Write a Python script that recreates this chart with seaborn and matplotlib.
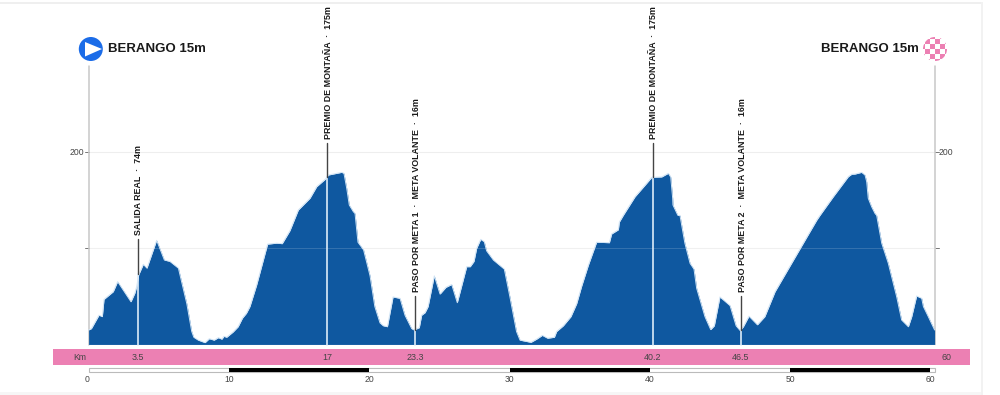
import numpy as np
import pandas as pd
import matplotlib
matplotlib.use("Agg")
import matplotlib.pyplot as plt
from matplotlib.patches import Circle, Rectangle, Polygon
import seaborn as sns

km = [0, 0.2, 0.74, 0.98, 1.1, 1.76, 2.07, 3.02, 3.3, 3.43, 3.57, 3.9, 4.16, 4.85, 5.4, 5.8, 6.4, 7.0, 7.35, 7.5,
      7.82, 8.3, 8.6, 8.95, 9.25, 9.5, 9.65, 9.84, 10.3, 10.66, 10.97, 11.25, 11.5, 11.98, 12.76, 13.4, 13.8, 14.35,
      14.95, 15.78, 16.26, 16.9, 17.09, 18.04, 18.2, 18.4, 18.58, 18.87, 18.99, 19.2, 19.6, 20.06, 20.4, 20.77, 21.0,
      21.3, 21.7, 22.2, 22.55, 23.03, 23.2, 23.57, 23.74, 23.98, 24.2, 24.64, 25.05, 25.47, 25.88, 26.28, 26.95,
      27.2, 27.47, 27.66, 27.95, 28.2, 28.37, 28.85, 29.63, 30.03, 30.5, 30.75, 31.53, 31.93, 32.34, 32.72, 33.2,
      33.36, 33.84, 34.38, 34.79, 35.14, 35.62, 36.21, 37.12, 37.28, 37.76, 37.83, 38.11, 38.95, 39.78, 40.14,
      40.85, 41.32, 41.49, 41.63, 41.65, 42.0, 42.15, 42.5, 42.87, 43.15, 43.34, 43.93, 44.34, 44.6, 45.0, 45.72,
      46.15, 46.44, 46.67, 47.07, 47.67, 48.2, 48.93, 51.42, 51.9, 52.13, 53.08, 54.15, 54.39, 54.62, 55.1, 55.34,
      55.46, 55.57, 55.81, 56.05, 56.17, 56.53, 57.0, 57.6, 57.95, 58.43, 58.67, 59.02, 59.38, 59.5, 59.85, 60.3]
elevation = [14.6, 16, 30, 28.5, 46.5, 54.5, 65, 44, 53, 60, 72, 83, 79, 108, 87.5, 86, 79, 42, 13, 7,
             4, 1.4, 5.5, 4, 6.6, 5, 8, 7, 12.5, 18, 27, 32, 39, 61.5, 104, 105, 104.5, 118,
             139.6, 151.8, 163.9, 172, 176, 178.8, 177.8, 162, 144.8, 137.8, 136, 106, 98, 71, 39, 22, 19,
             18, 49, 47.5, 30, 16, 14.6, 17, 30, 32.6, 39, 71, 52, 59, 62, 43, 80.5,
             80.5, 86, 99.6, 109, 106.6, 97, 87.5, 78, 49, 13, 4, 1.7, 5, 9, 6, 7,
             13, 19, 28.5, 42, 60, 82, 106, 105.5, 114.6, 119, 127, 134, 153.4, 167.4, 173.6,
             174, 177.8, 174, 151.8, 144.8, 134, 134, 105, 84, 78, 58, 28.5, 15, 19, 49, 40,
             19, 14, 18, 29, 20, 28.5, 54.5, 117, 129, 134, 153.4, 174.3, 176.8, 177, 178.8, 176,
             169, 151.8, 143, 136, 134, 105, 84, 49, 25, 18, 28.5, 50, 47.6, 39, 28.5, 14.6]

mark_km = [3.5, 17, 23.3, 40.2, 46.5]
mark_elev = [73, 174, 15, 174, 15]
mark_stem_top = [109, 209, 50, 209, 50]
mark_labels = ["SALIDA REAL  ·  74m", "PREMIO DE MONTAÑA  ·  175m", "PASO POR META 1  ·  META VOLANTE  ·  16m",
               "PREMIO DE MONTAÑA  ·  175m", "PASO POR META 2  ·  META VOLANTE  ·  16m"]
band_labels = ["3.5", "17", "23.3", "40.2", "46.5", "60"]
band_km = [3.5, 17, 23.3, 40.2, 46.5, 60]
scale_ticks = [0, 10, 20, 30, 40, 50, 60]
place_start = "BERANGO 15m"
place_end = "BERANGO 15m"

sns.set_theme(style="white")
plt.rcParams['font.family'] = ['Liberation Sans', 'DejaVu Sans']

fig = plt.figure(figsize=(10, 3.95), dpi=100, facecolor="white")
px = fig.add_axes([0, 0, 1, 1], zorder=0)
px.set_xlim(0, 1000); px.set_ylim(395, 0); px.axis("off")
ax = fig.add_axes([0, 0, 1, 1], zorder=1)
ax.patch.set_alpha(0)
x0, sx, y0, sy = 88.6, 14.03, 344.0, 0.96
ax.set_xlim((0 - x0) / sx, (1000 - x0) / sx)
ax.set_ylim((y0 - 395) / sy, (y0 - 0) / sy)
ax.axis("off")
top = fig.add_axes([0, 0, 1, 1], zorder=2)
top.patch.set_alpha(0)
top.set_xlim(0, 1000); top.set_ylim(395, 0); top.axis("off")

BLUE = "#0F58A0"
PINK = "#EC80B3"
base = -1.3
df = pd.DataFrame({"km": km, "elevation": elevation})

# page frame
px.add_patch(Rectangle((0, 2), 981, 1.6, color="#EFEFEF", lw=0))
px.add_patch(Rectangle((981, 2), 1.6, 393, color="#F2F2F2", lw=0))
px.add_patch(Rectangle((0, 392), 981, 3, color="#F6F6F6", lw=0))

# grid & axes
for v in (100, 200):
    ax.plot([0, 60.33], [v, v], color="#EEEEEE", lw=0.8, zorder=1)
    ax.plot([-0.25, 0], [v, v], color="#777777", lw=0.7, zorder=1)
    ax.plot([60.33, 60.58], [v, v], color="#777777", lw=0.7, zorder=1)
for xv in (0, 60.33):
    ax.plot([xv, xv], [base, 290], color="#C8C8C8", lw=1.1, zorder=1)

ax.fill_between(df["km"], base, df["elevation"], color=BLUE, lw=0, zorder=2)
sns.lineplot(data=df, x="km", y="elevation", ax=ax, color="#CFE3F5", lw=0.7, zorder=3, legend=False, estimator=None)
ax.axis("off")
ax.set_xlim((0 - x0) / sx, (1000 - x0) / sx)
ax.set_ylim((y0 - 395) / sy, (y0 - 0) / sy)
ax.plot([0, 60.33], [100, 100], color="white", lw=0.6, alpha=0.18, zorder=4)
ax.plot([0, 60.33], [base, base], color="white", lw=0.8, zorder=4)

# markers
for k, e, s, lab in zip(mark_km, mark_elev, mark_stem_top, mark_labels):
    ax.plot([k, k], [base, e], color="#DCEBF8", lw=1.2, zorder=5)
    ax.plot([k, k], [e, s], color="#444444", lw=1.0, zorder=5)
    ax.annotate(lab, (k, s), xytext=(0.9, 3), textcoords="offset points", rotation=90, ha="center", va="bottom",
                fontsize=6.4, fontweight="bold", color="#1A1A1A", zorder=6)

# km band
px.add_patch(Rectangle((53, 349), 917, 16, color=PINK, lw=0))
px.text(80, 357, "Km", fontsize=6.2, color="#444444", ha="center", va="center")
for k, lab in zip(band_km, band_labels):
    top.text(x0 + sx * k + (0.0 if lab != "60" else 16.5), 357, lab, fontsize=6.4, color="#444444", ha="center", va="center")

# scale bar
px.add_patch(Rectangle((88.5, 367.5), 846.5, 4.5, fc="white", ec="#BBBBBB", lw=0.8))
for a, b in zip(scale_ticks[1::2], scale_ticks[2::2]):
    top.add_patch(Rectangle((x0 + sx * a, 367.5), sx * (b - a), 4.5, color="black", lw=0))
for t in scale_ticks:
    top.text(x0 + sx * t - (2 if t == 0 else 0), 379, str(t), fontsize=6.2, color="#444444", ha="center", va="center")

# y labels
px.text(84.5, 152.5, "200", fontsize=6.2, color="#444444", ha="right", va="center")
px.text(939, 152.5, "200", fontsize=6.2, color="#444444", ha="left", va="center")

# start / end
top.text(108, 48.5, place_start, fontsize=9.5, fontweight="bold", color="#1A1A1A", ha="left", va="center")
top.text(919, 48.5, place_end, fontsize=9.5, fontweight="bold", color="#1A1A1A", ha="right", va="center")
top.add_patch(Circle((90.8, 49), 12, color="#1B6CE8", lw=0))
top.add_patch(Polygon([(85, 42), (85, 56.5), (102, 49)], closed=True, fc="white", ec="none"))

clip = Circle((935, 49), 12, transform=top.transData, fc="white", ec="none")
top.add_patch(clip)
size = 5
for i in range(-3, 3):
    for j in range(-3, 3):
        if (i + j) % 2 == 0:
            r = Rectangle((935 + i * size, 49 + j * size), size, size, color=PINK, lw=0)
            top.add_patch(r)
            r.set_clip_path(clip)

fig.savefig("out.png", dpi=100, facecolor="white")
